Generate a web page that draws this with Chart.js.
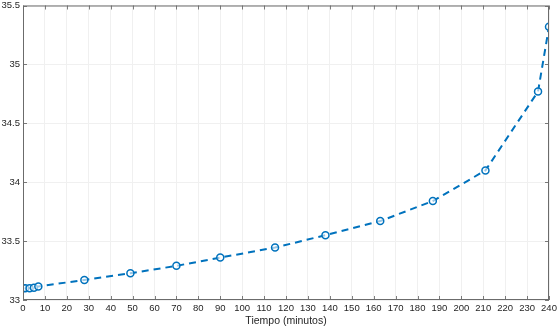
<!DOCTYPE html>
<html>
<head>
<meta charset="utf-8">
<script src="https://cdn.jsdelivr.net/npm/chart.js@4"></script>
<style>
  html, body { margin: 0; padding: 0; background: #fff; }
  #wrap { width: 557px; height: 327px; }
</style>
</head>
<body>
<div id="wrap"><canvas id="chart"></canvas></div>
<script>
// datos
const tiempos = [0, 1, 3, 5, 7, 28, 49, 70, 90, 115, 138, 163, 187, 211, 235, 240];
const valores = [33.10, 33.10, 33.10, 33.105, 33.115, 33.17, 33.227, 33.29, 33.36, 33.445, 33.55, 33.67, 33.84, 34.10, 34.77, 35.32];
const xTicks = [0, 240, 10];
const yTicks = [33, 35.5, 0.5];

const azul = '#0072BD';
const fuente = 'Helvetica, Arial, "Liberation Sans", sans-serif';

// caja del eje y marcas hacia dentro, estilo matlab
const cajaPlugin = {
    id: 'caja',
    afterDraw(chart) {
        const { ctx, chartArea: a, scales } = chart;
        ctx.save();
        ctx.strokeStyle = '#262626';
        ctx.lineWidth = 0.6;
        ctx.beginPath();
        scales.x.ticks.forEach(t => {
            const px = Math.round(scales.x.getPixelForValue(t.value)) + 0.5;
            ctx.moveTo(px, a.bottom); ctx.lineTo(px, a.bottom - 4);
            ctx.moveTo(px, a.top); ctx.lineTo(px, a.top + 4);
        });
        scales.y.ticks.forEach(t => {
            const py = Math.round(scales.y.getPixelForValue(t.value)) + 0.5;
            ctx.moveTo(a.left, py); ctx.lineTo(a.left + 4, py);
            ctx.moveTo(a.right, py); ctx.lineTo(a.right - 4, py);
        });
        ctx.stroke();
        ctx.strokeStyle = '#6b6b6b';
        ctx.lineWidth = 1;
        ctx.strokeRect(a.left + 0.5, a.top + 0.5, a.right - a.left - 1, a.bottom - a.top - 1);
        ctx.restore();
    }
};

new Chart(document.getElementById('chart'), {
    type: 'line',
    data: {
        datasets: [{
            data: tiempos.map((t, i) => ({ x: t, y: valores[i] })),
            borderColor: azul,
            borderWidth: 2,
            borderDash: [7, 5],
            backgroundColor: 'rgba(255,255,255,0)',
            pointBorderColor: azul,
            pointBackgroundColor: 'rgba(255,255,255,0.6)',
            pointBorderWidth: 1.5,
            pointRadius: 3.5,
            tension: 0,
            fill: false
        }]
    },
    options: {
        responsive: true,
        maintainAspectRatio: false,
        animation: false,
        layout: { padding: { top: 5, right: 8, left: 0, bottom: 0 } },
        plugins: {
            legend: { display: false },
            tooltip: { enabled: false }
        },
        scales: {
            x: {
                type: 'linear',
                min: xTicks[0],
                max: xTicks[1],
                ticks: {
                    stepSize: xTicks[2],
                    maxRotation: 0,
                    autoSkip: false,
                    color: '#262626',
                    padding: 3,
                    font: { family: fuente, size: 9.5 }
                },
                grid: { color: '#f0f0f0', lineWidth: 1, tickLength: 0 },
                border: { display: false },
                title: {
                    display: true,
                    text: 'Tiempo (minutos)',
                    color: '#262626',
                    padding: { top: 0, bottom: 0 },
                    font: { family: fuente, size: 10.5 }
                },
                afterFit(scale) {
                    scale.height = 27;
                    scale.paddingLeft = 0;
                    scale.paddingRight = 0;
                }
            },
            y: {
                min: yTicks[0],
                max: yTicks[1],
                ticks: {
                    stepSize: yTicks[2],
                    color: '#262626',
                    padding: 3,
                    font: { family: fuente, size: 9.5 },
                    callback: v => String(Math.round(v * 10) / 10)
                },
                grid: { color: '#f0f0f0', lineWidth: 1, tickLength: 0 },
                border: { display: false },
                afterFit(scale) {
                    scale.width = 23;
                    scale.paddingTop = 0;
                    scale.paddingBottom = 0;
                }
            }
        }
    },
    plugins: [cajaPlugin]
});
</script>
</body>
</html>
